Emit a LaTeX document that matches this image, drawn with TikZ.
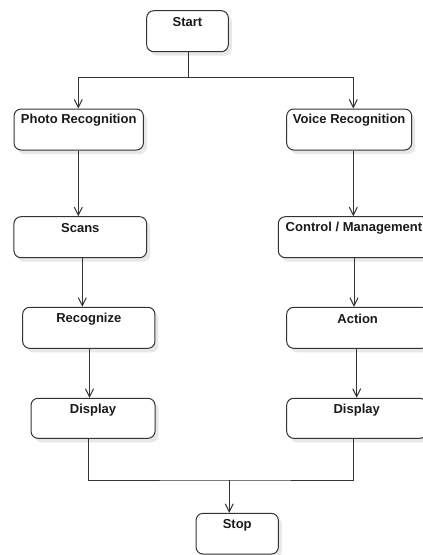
\documentclass[tikz,border=0pt]{standalone}
\usepackage{fontspec}
\setmainfont{Liberation Sans}
\usetikzlibrary{arrows.meta,shadows,calc}
\definecolor{linec}{HTML}{333333}
\definecolor{textc}{HTML}{1A1A1A}
\tikzset{
  box/.style={draw=linec, line width=1pt, rounded corners=7pt, fill=white, inner sep=0pt,
    drop shadow={shadow xshift=3.5pt, shadow yshift=-4pt, fill=black!9, opacity=1}},
  lbl/.style={font=\fontsize{13}{15}\selectfont\bfseries, text=textc, inner sep=0pt},
  conn/.style={draw=linec, line width=1pt},
  arr/.style={conn, -{Straight Barb[length=8pt,width=8pt,line width=1pt]}}
}
\newcommand{\boxlabel}[2]{\node[lbl] at ($(#1.north)+(0,12)$) {#2};}
\begin{document}
\begin{tikzpicture}[x=1pt,y=-1pt]
\useasboundingbox (0,0) rectangle (423,555);
\clip (0,0) rectangle (423,555);
\fill[white] (0,0) rectangle (423,555);

\node[box, minimum width=81.6pt, minimum height=41pt] (start) at (187.5,31.2) {};
\node[box, minimum width=129.3pt, minimum height=41pt] (photo) at (78.7,129.5) {};
\node[box, minimum width=125pt, minimum height=41pt] (voice) at (349.2,129.5) {};
\node[box, minimum width=132.7pt, minimum height=41pt] (scans) at (80.3,237.2) {};
\node[box, minimum width=151.4pt, minimum height=41pt] (control) at (354,237.2) {};
\node[box, minimum width=132.3pt, minimum height=41pt] (recog) at (88.8,327.8) {};
\node[box, minimum width=142pt, minimum height=41pt] (action) at (357.7,327.8) {};
\node[box, minimum width=124pt, minimum height=40pt] (displayL) at (93,418.3) {};
\node[box, minimum width=140pt, minimum height=40pt] (displayR) at (356.7,418.3) {};
\node[box, minimum width=82.3pt, minimum height=40.7pt] (stop) at (237.2,533.7) {};

\boxlabel{start}{Start}
\boxlabel{photo}{Photo Recognition}
\boxlabel{voice}{Voice Recognition}
\boxlabel{scans}{Scans}
\boxlabel{control}{Control / Management}
\boxlabel{recog}{Recognize}
\boxlabel{action}{Action}
\boxlabel{displayL}{Display}
\boxlabel{displayR}{Display}
\boxlabel{stop}{Stop}

\coordinate (split) at (188.3,77);
\coordinate (merge) at (229.3,480);

\draw[conn] ([xshift=0.8pt]start.south) -- (split);
\draw[arr] (split) -| ([xshift=-0.4pt]photo.north);
\draw[arr] (split) -| ([xshift=4.1pt]voice.north);

\draw[arr] ([xshift=-0.4pt]photo.south) -- ([xshift=-0.4pt]photo.south |- scans.north);
\draw[arr] ([xshift=2pt]scans.south) -- ([xshift=2pt]scans.south |- recog.north);
\draw[arr] ([xshift=0.7pt]recog.south) -- ([xshift=0.7pt]recog.south |- displayL.north);

\draw[arr] ([xshift=4.1pt]voice.south) -- ([xshift=4.1pt]voice.south |- control.north);
\draw[arr] (control.south) -- (control.south |- action.north);
\draw[arr] ([xshift=-1pt]action.south) -- ([xshift=-1pt]action.south |- displayR.north);

\draw[conn] ([xshift=-4.7pt]displayL.south) |- (merge) -| ([xshift=-3.4pt]displayR.south);
\draw[arr] (merge) -- (merge |- stop.north);
\end{tikzpicture}
\end{document}
